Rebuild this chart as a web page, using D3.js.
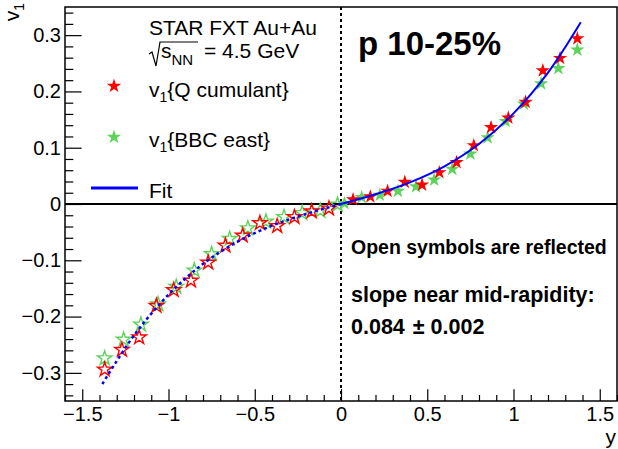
<!DOCTYPE html>
<html>
<head>
<meta charset="utf-8">
<script src="https://cdn.jsdelivr.net/npm/d3@7/dist/d3.min.js"></script>
<style>
  html, body { margin: 0; padding: 0; background: #fff; }
  svg { display: block; font-family: "Liberation Sans", Arial, Helvetica, sans-serif; }
</style>
</head>
<body>
<svg id="chart"></svg>
<script>
// ── Data (positive-rapidity measurements; open symbols are their reflections) ──
const qcumY   = [0.07, 0.17, 0.27, 0.37, 0.47, 0.57, 0.67, 0.77, 0.87, 0.97, 1.07, 1.17, 1.27, 1.37];
const qcumV1  = [0.008, 0.013, 0.023, 0.039, 0.034, 0.056, 0.074, 0.104, 0.136, 0.153, 0.181, 0.237, 0.259, 0.294];
const bbcY    = [0.02, 0.12, 0.225, 0.33, 0.435, 0.54, 0.645, 0.75, 0.85, 0.955, 1.06, 1.16, 1.26, 1.37];
const bbcV1   = [0.001, 0.012, 0.016, 0.023, 0.031, 0.043, 0.062, 0.089, 0.118, 0.147, 0.178, 0.214, 0.241, 0.274];
// fit curve
const fitY    = [0, 0.2, 0.4, 0.6, 0.8, 1.0, 1.2, 1.39];
const fitV1   = [0, 0.0174, 0.0385, 0.067, 0.1065, 0.161, 0.2335, 0.323];

const xMajor = [-1.5, -1, -0.5, 0, 0.5, 1, 1.5];
const yMajor = [-0.3, -0.2, -0.1, 0, 0.1, 0.2, 0.3];

const W = 618, H = 449;
const L = 65, R = 617, T = 7, B = 401;
const RED = '#ff0000', GREEN = '#5dd35a', BLUE = '#0000ff';

const svg = d3.select('#chart').attr('width', W).attr('height', H);
svg.append('rect').attr('width', W).attr('height', H).attr('fill', '#fff');

const x = d3.scaleLinear().domain([-1.6, 1.6]).range([L, R]);
const y = d3.scaleLinear().domain([-0.35, 0.35]).range([B, T]);

const fmt = d => d === 0 ? '0' : d3.format('')(d);

// ── Axes ──────────────────────────────────────────────────────────────────────
const xMinor = d3.range(-16, 17).map(i => i / 10).filter(v => Math.abs(v * 2 - Math.round(v * 2)) > 1e-6);
const yMinor = d3.range(-17, 18).map(i => i / 50).filter(v => Math.abs(v * 10 - Math.round(v * 10)) > 1e-6);

const gx = svg.append('g').attr('transform', `translate(0,${B})`);
gx.call(d3.axisBottom(x).tickValues(xMajor).tickSize(-11.8).tickPadding(6).tickFormat(fmt));
gx.append('g').call(d3.axisBottom(x).tickValues(xMinor).tickSize(-6).tickFormat(''));

const gy = svg.append('g').attr('transform', `translate(${L},0)`);
gy.call(d3.axisLeft(y).tickValues(yMajor).tickSize(-16.6).tickPadding(4).tickFormat(fmt));
gy.append('g').call(d3.axisLeft(y).tickValues(yMinor).tickSize(-8.3).tickFormat(''));

svg.selectAll('.domain').remove();
svg.selectAll('.tick line').attr('stroke', '#000').attr('stroke-width', 1.2);
gx.selectAll('.tick text').attr('font-size', 20).attr('fill', '#000').attr('font-family', null);
gy.selectAll('.tick text').attr('font-size', 20).attr('fill', '#000').attr('font-family', null);

// axis titles
svg.append('text').attr('x', R - 1).attr('y', 444).attr('text-anchor', 'end')
  .attr('font-size', 21).text('y');
const yt = svg.append('text').attr('transform', 'translate(19,3) rotate(-90)')
  .attr('text-anchor', 'end').attr('font-size', 21);
yt.append('tspan').text('v');
yt.append('tspan').attr('font-size', 14).attr('dy', 5).text('1');

// ── Reference lines ───────────────────────────────────────────────────────────
svg.append('line').attr('x1', L).attr('x2', R).attr('y1', y(0)).attr('y2', y(0))
  .attr('stroke', '#000').attr('stroke-width', 2);
svg.append('line').attr('x1', x(0)).attr('x2', x(0)).attr('y1', T).attr('y2', B)
  .attr('stroke', '#000').attr('stroke-width', 2).attr('stroke-dasharray', '3,3');

// ── Markers ───────────────────────────────────────────────────────────────────
const star = d3.symbol(d3.symbolStar, 64);
const qcum = qcumY.map((v, i) => [v, qcumV1[i]]);
const bbc  = bbcY.map((v, i) => [v, bbcV1[i]]);
const refl = pts => pts.map(([a, b]) => [-a, -b]);

function drawOpen(pts, col) {
  svg.append('g').selectAll('path').data(pts).join('path')
    .attr('d', star).attr('transform', d => `translate(${x(d[0])},${y(d[1])})`)
    .attr('fill', 'none').attr('stroke', col).attr('stroke-width', 1.4);
}
function drawFilled(pts, col) {
  svg.append('g').selectAll('path').data(pts).join('path')
    .attr('d', star).attr('transform', d => `translate(${x(d[0])},${y(d[1])})`)
    .attr('fill', col);
}
drawOpen(refl(bbc), GREEN);
drawOpen(refl(qcum), RED);
drawFilled(bbc, GREEN);
drawFilled(qcum, RED);

// ── Fit ───────────────────────────────────────────────────────────────────────
const fit = fitY.map((v, i) => [v, fitV1[i]]);
const line = d3.line().x(d => x(d[0])).y(d => y(d[1])).curve(d3.curveCatmullRom);
svg.append('path').datum(fit).attr('d', line)
  .attr('fill', 'none').attr('stroke', BLUE).attr('stroke-width', 2);
svg.append('path').datum(refl(fit)).attr('d', line)
  .attr('fill', 'none').attr('stroke', BLUE).attr('stroke-width', 2.5).attr('stroke-dasharray', '3,3');

// ── Frame ─────────────────────────────────────────────────────────────────────
svg.append('rect').attr('x', L).attr('y', T).attr('width', R - L).attr('height', B - T)
  .attr('fill', 'none').attr('stroke', '#000').attr('stroke-width', 1.5);

// ── Legend ────────────────────────────────────────────────────────────────────
svg.append('text').attr('x', 149).attr('y', 35).attr('font-size', 21).text('STAR FXT Au+Au');
svg.append('path').attr('d', 'M149,54 L152,52 L156,66 L160,42 L198,42')
  .attr('fill', 'none').attr('stroke', '#000').attr('stroke-width', 1.2);
const sq = svg.append('text').attr('x', 161).attr('y', 58).attr('font-size', 21);
sq.append('tspan').text('s');
sq.append('tspan').attr('font-size', 15).attr('dy', 7).text('NN');
sq.append('tspan').attr('dy', -7).attr('x', 204).text('= 4.5 GeV');

function legendLabel(yy, rest) {
  const t = svg.append('text').attr('x', 149).attr('y', yy).attr('font-size', 21);
  t.append('tspan').text('v');
  t.append('tspan').attr('font-size', 14).attr('dy', 5).text('1');
  t.append('tspan').attr('dy', -5).text(rest);
}
svg.append('path').attr('d', star).attr('transform', 'translate(114,86)').attr('fill', RED);
legendLabel(97, '{Q cumulant}');
svg.append('path').attr('d', star).attr('transform', 'translate(114,137)').attr('fill', GREEN);
legendLabel(147, '{BBC east}');
svg.append('line').attr('x1', 91).attr('x2', 138).attr('y1', 188).attr('y2', 188)
  .attr('stroke', BLUE).attr('stroke-width', 3);
svg.append('text').attr('x', 149).attr('y', 198).attr('font-size', 21).text('Fit');

// ── Annotations ───────────────────────────────────────────────────────────────
svg.append('text').attr('x', 358).attr('y', 55).attr('font-size', 33).attr('font-weight', 'bold')
  .text('p 10-25%');
svg.append('text').attr('x', 351).attr('y', 254).attr('font-size', 19.5).attr('font-weight', 'bold')
  .text('Open symbols are reflected');
svg.append('text').attr('x', 351).attr('y', 302).attr('font-size', 21.5).attr('font-weight', 'bold')
  .text('slope near mid-rapidity:');
const sl = svg.append('text').attr('x', 351).attr('y', 334).attr('font-size', 21.5).attr('font-weight', 'bold');
sl.append('tspan').text('0.084');
sl.append('tspan').attr('dx', 8).text('\u00b1 0.002');
</script>
</body>
</html>
